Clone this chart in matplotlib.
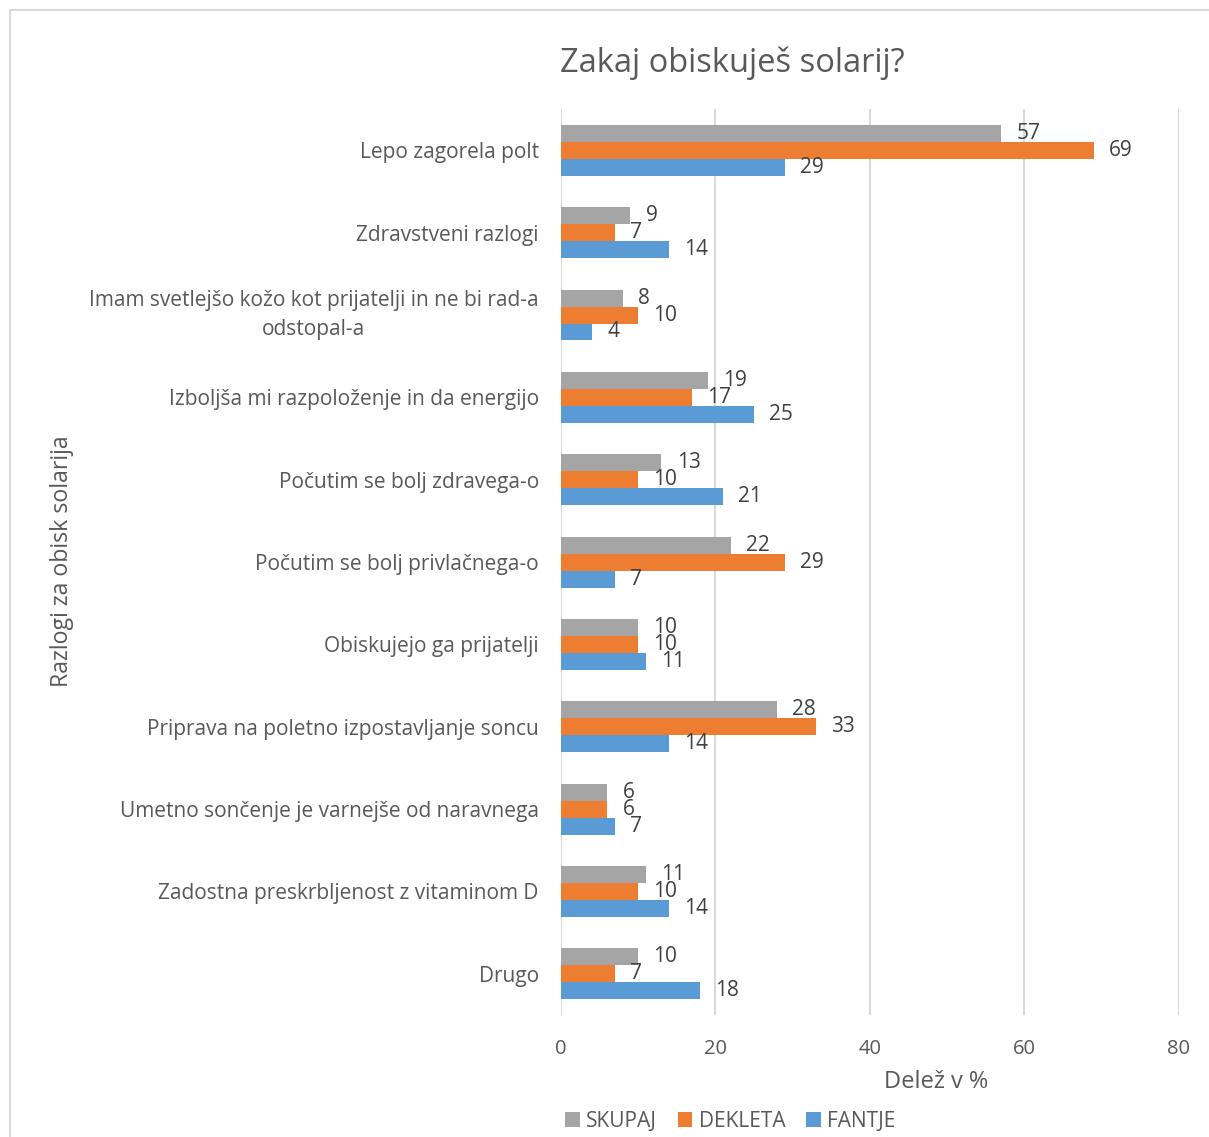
import matplotlib.pyplot as plt
import numpy as np

plt.rcParams['font.family'] = ['Open Sans', 'DejaVu Sans']

razlogi = ['Lepo zagorela polt',
           'Zdravstveni razlogi',
           'Imam svetlejšo kožo kot prijatelji in ne bi rad-a\nodstopal-a',
           'Izboljša mi razpoloženje in da energijo',
           'Počutim se bolj zdravega-o',
           'Počutim se bolj privlačnega-o',
           'Obiskujejo ga prijatelji',
           'Priprava na poletno izpostavljanje soncu',
           'Umetno sončenje je varnejše od naravnega',
           'Zadostna preskrbljenost z vitaminom D',
           'Drugo']
skupaj = [57, 9, 8, 19, 13, 22, 10, 28, 6, 11, 10]
dekleta = [69, 7, 10, 17, 10, 29, 10, 33, 6, 10, 7]
fantje = [29, 14, 4, 25, 21, 7, 11, 14, 7, 14, 18]

barve = {'SKUPAJ': '#a5a5a5', 'DEKLETA': '#ed7d31', 'FANTJE': '#5b9bd5'}
siva = '#595959'

fig = plt.figure(figsize=(12.09, 11.37), dpi=100)
ax = fig.add_axes([0.464, 0.1073, 0.511, 0.7967])

# okvir grafa
fig.add_artist(plt.Line2D([0.0083, 0.0083], [0, 0.9912], color='#d9d9d9', lw=1.5))
fig.add_artist(plt.Line2D([0.0083, 1], [0.9912, 0.9912], color='#d9d9d9', lw=1.5))

y = np.arange(len(razlogi))
h = 0.206  # visina stolpca

serije = [('SKUPAJ', skupaj, -h), ('DEKLETA', dekleta, 0), ('FANTJE', fantje, h)]
for ime, vrednosti, zamik in serije:
    stolpci = ax.barh(y + zamik, vrednosti, h, color=barve[ime], label=ime, zorder=3)
    ax.bar_label(stolpci, padding=11, fontsize=15, color='#404040')

ax.set_xlim(0, 80)
ax.set_ylim(len(razlogi) - 0.5, -0.5)
ax.set_xticks(range(0, 81, 20))
ax.set_yticks(y, razlogi)
for t in ax.get_yticklabels():
    if '\n' in t.get_text():
        t.set_multialignment('center')
        t.set_linespacing(1.55)
        t.set_va('center')
ax.tick_params(length=0, labelsize=15, labelcolor=siva)
ax.tick_params(axis='x', labelsize=14.5)
ax.tick_params(axis='y', pad=16)
ax.tick_params(axis='x', pad=17)
ax.grid(axis='x', color='#d9d9d9', lw=1.5, zorder=0)
for s in ax.spines.values():
    s.set_visible(False)

ax.set_title('Zakaj obiskuješ solarij?', fontsize=23.5, color=siva, pad=27, x=0.277)
ax.set_xlabel('Delež v %', fontsize=17, color=siva, labelpad=8, x=0.607)
fig.text(0.051, 0.506, 'Razlogi za obisk solarija', rotation=90, fontsize=16.7,
         color=siva, ha='center', va='center')

fig.legend(loc='center', bbox_to_anchor=(0.604, 0.014), ncol=3, frameon=False,
           fontsize=15, labelcolor=siva, handlelength=0.7, handleheight=0.7,
           handletextpad=0.3, columnspacing=1.0)

fig.savefig('out.png', dpi=100)
